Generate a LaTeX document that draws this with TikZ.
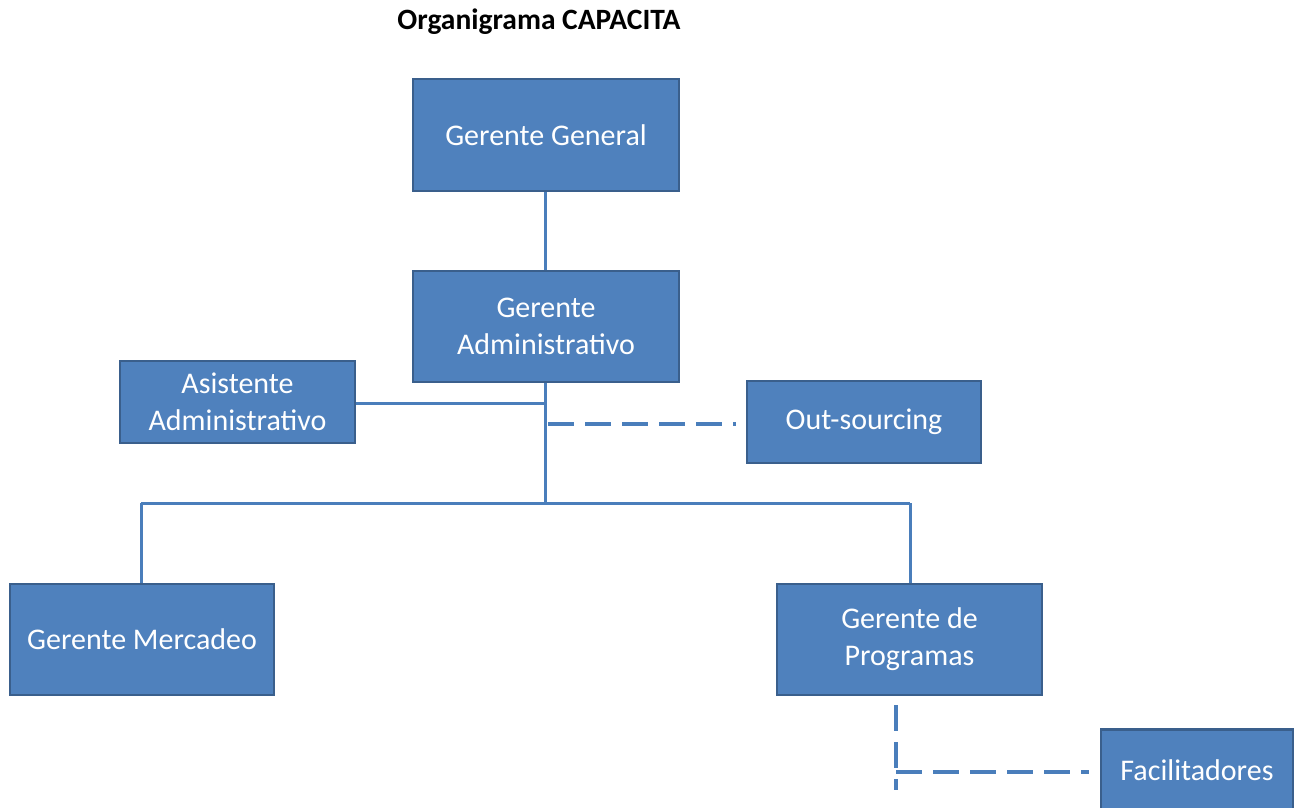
\documentclass[tikz,border=0pt]{standalone}
\usepackage{fontspec}
\setmainfont{Carlito}
\definecolor{boxfill}{HTML}{4F81BD}
\definecolor{boxline}{HTML}{3A5F8C}
\definecolor{conn}{HTML}{4A7EBB}
\begin{document}
\begin{tikzpicture}[x=1pt,y=-1pt,
  orgbox/.style={draw=boxline, line width=2.5pt, fill=boxfill, text=white,
    font=\fontsize{30}{37}\selectfont, align=center, inner sep=0pt},
  solidconn/.style={draw=conn, line width=3pt},
  dashconn/.style={draw=conn, line width=3.5pt, dash pattern=on 26pt off 11pt}]
\useasboundingbox (0,0) rectangle (1298,808);
\clip (0,0) rectangle (1298,808);
\fill[white] (0,0) rectangle (1298,808);
\node[font=\bfseries\fontsize{29.5}{34}\selectfont] (title) at (539,22) {Organigrama CAPACITA};
\node[orgbox, minimum width=266pt, minimum height=112pt] (gg) at (546,135) {Gerente General};
\node[orgbox, minimum width=266pt, minimum height=111pt] (ga) at (546,326.5) {Gerente\\Administrativo};
\node[orgbox, minimum width=235pt, minimum height=82pt] (aa) at (237.5,402) {Asistente\\Administrativo};
\node[orgbox, minimum width=234pt, minimum height=82pt] (os) at (864,422) {Out-sourcing};
\node[orgbox, minimum width=264pt, minimum height=111pt] (gm) at (142,639.5) {Gerente Mercadeo};
\node[orgbox, minimum width=265pt, minimum height=111pt] (gp) at (909.5,639.5) {Gerente de\\Programas};
\node[orgbox, minimum width=192pt, minimum height=120pt, anchor=north] (fa) at (1197,728) {};
\node[text=white, font=\fontsize{30}{37}\selectfont] (fat) at (1197,770) {Facilitadores};
\coordinate (hub) at (545,503);
\coordinate (ja) at (545,403);
\coordinate (jo) at (548,424);
\coordinate (hl) at (141,503);
\coordinate (hr) at (910,503);
\coordinate (pv) at (896,705);
\coordinate (pc) at (896,772);
\coordinate (pb) at (896,790);
\draw[solidconn] (gg.south -| hub) -- (ga.north -| hub);
\draw[solidconn] (ga.south -| hub) -- (hub);
\draw[solidconn] (aa.east |- ja) -- (ja);
\draw[dashconn] (jo) -- ([xshift=-10pt]os.west |- jo);
\draw[solidconn] (hl) -- (hr);
\draw[solidconn] (hl) -- (gm.north -| hl);
\draw[solidconn] (hr) -- (gp.north -| hr);
\draw[dashconn] (pv) -- (pb);
\draw[dashconn] (pc) -- ([xshift=-11pt]fa.west |- pc);
\end{tikzpicture}
\end{document}
